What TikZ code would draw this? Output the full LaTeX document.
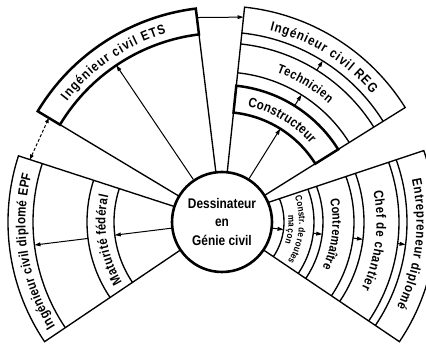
\documentclass[tikz,border=0pt]{standalone}
\usepackage{fontspec}
\setmainfont{Liberation Sans}
\newfontfamily\lab{Liberation Sans}[FakeStretch=0.85]
\usetikzlibrary{decorations.text,arrows.meta}

\newcommand\bandtext[5]{%
  \path[decorate,decoration={text along path,text align={fit to path},
    text={|\lab\bfseries\fontsize{#4}{#4}\selectfont|#5}}]
    (#1:#3) arc[start angle=#1,end angle=#2,radius=#3];}

\begin{document}
\begin{tikzpicture}[x=1pt,y=1pt,
  ln/.style={line width=1.35pt},
  thk/.style={line width=2.5pt},
  arr/.style={line width=1pt,-{Triangle[length=6pt,width=3.8pt]}},
  darr/.style={line width=1pt,dash pattern=on 3pt off 2pt,
    {Triangle[length=5pt,width=3.6pt]}-{Triangle[length=5pt,width=3.6pt]}},
]
\useasboundingbox (0,0) rectangle (426,344);
\begin{scope}[shift={(222,122)}]
% centre
\node[circle,draw,line width=2.6pt,minimum size=100pt,inner sep=0pt,align=center,
  font=\lab\bfseries\fontsize{14}{18.5}\selectfont] (C) at (0,0) {Dessinateur\\en\\Génie civil};

% left sector
\draw[ln] (162:50) -- (162:214) arc[start angle=162,end angle=214,radius=214] -- (214:50);
\foreach \r in {189,135,108}
  \draw[ln] (162:\r) arc[start angle=162,end angle=214,radius=\r];

% top-left sector
\draw[ln] (97:50) -- (97:189);
\draw[ln] (149:50) -- (149:189);
\draw[thk] (149:189) arc[start angle=149,end angle=97,radius=189] -- (97:215)
  arc[start angle=97,end angle=149,radius=215] -- cycle;

% top-right sector
\draw[ln] (84:50) -- (84:110);
\draw[ln] (32:50) -- (32:110);
\draw[thk] (84:110) arc[start angle=84,end angle=32,radius=110] -- (32:137)
  arc[start angle=32,end angle=84,radius=137] -- cycle;
\draw[ln] (84:137) -- (84:216) arc[start angle=84,end angle=32,radius=216] -- (32:137);
\foreach \r in {150,179,190}
  \draw[ln] (84:\r) arc[start angle=84,end angle=32,radius=\r];

% right sector
\draw[ln] (23:50) -- (19.5:214) arc[start angle=19.5,end angle=-34,radius=214] -- (-34:50);
\foreach \a/\r in {22.11/62,20.91/92,20.69/101,20.16/132,20.05/142,19.73/177,19.67/185}
  \draw[ln] (\a:\r) arc[start angle=\a,end angle=-34,radius=\r];

% arrow end points
\coordinate (tl0) at (124:189);
\coordinate (tr0) at (58:110);
\coordinate (tr1a) at (58:137); \coordinate (tr1b) at (58:150);
\coordinate (tr2a) at (58:179); \coordinate (tr2b) at (58:190);
\coordinate (l0) at (187:108);
\coordinate (l1a) at (187:135); \coordinate (l1b) at (187:189);
\coordinate (r0) at (353:62);
\coordinate (r1a) at (353:92); \coordinate (r1b) at (353:101);
\coordinate (r2a) at (353:132); \coordinate (r2b) at (353:142);
\coordinate (r3a) at (353:177); \coordinate (r3b) at (353:185);
\coordinate (etsR) at (97:206); \coordinate (regL) at (84:206);
\coordinate (epfT) at (162:202); \coordinate (etsB) at (149:202);

\draw[arr] (C.124) -- (tl0);
\draw[arr] (C.58) -- (tr0);
\draw[arr] (tr1a) -- (tr1b);
\draw[arr] (tr2a) -- (tr2b);
\draw[arr] (C.187) -- (l0);
\draw[arr] (l1a) -- (l1b);
\draw[arr] (C.353) -- (r0);
\draw[arr] (r1a) -- (r1b);
\draw[arr] (r2a) -- (r2b);
\draw[arr] (r3a) -- (r3b);
\draw[arr] (etsR) -- (regL);
\draw[darr] (epfT) -- (etsB);

% texts
\bandtext{142}{106.5}{196.5}{13.5}{Ingénieur civil ETS}
\bandtext{76}{40.5}{197.5}{13.5}{Ingénieur civil REG}
\bandtext{70}{48}{159.5}{13}{Technicien}
\bandtext{77.5}{41.5}{118.5}{13.5}{Constructeur}
\bandtext{212}{166}{196.5}{13.5}{Ingénieur civil diplomé EPF}
\bandtext{211}{167}{116.5}{13.5}{Maturité fédéral}
\bandtext{12.5}{-26}{194.5}{13.5}{Entrepreneur diplomé}
\bandtext{11.5}{-25.5}{154.5}{13.5}{Chef de chantier}
\bandtext{12}{-24.5}{110.5}{13}{Contremaître}
\bandtext{19}{-31}{77}{9.5}{Constr. de routes}
\bandtext{6}{-19}{66.5}{9.5}{maçon}
\end{scope}
\end{tikzpicture}
\end{document}
